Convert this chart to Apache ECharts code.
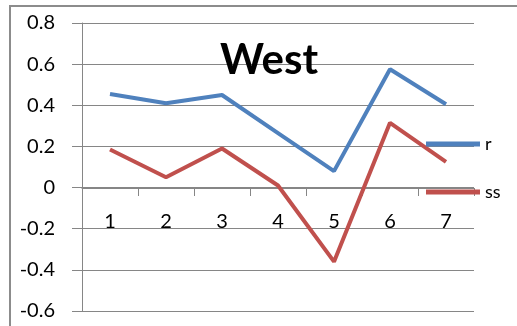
<!DOCTYPE html>
<html><head><meta charset="utf-8">
<script src="https://cdn.jsdelivr.net/npm/echarts@6/dist/echarts.min.js"></script>
<style>html,body{margin:0;padding:0;background:#fff}#c{width:517px;height:326px}</style>
</head><body><div id="c"></div>
<script>
const categories = ['1','2','3','4','5','6','7'];
const rValues = [0.455, 0.41, 0.45, 0.265, 0.08, 0.575, 0.405];
const ssValues = [0.185, 0.05, 0.19, 0.01, -0.36, 0.315, 0.125];
const seriesNames = ['r', 'ss'];
const titleText = 'West';

const gray = '#868686';
const chart = echarts.init(document.getElementById('c'));
chart.setOption({
  animation: false,
  backgroundColor: '#fff',
  graphic: [{
    type: 'rect', shape: {x: 10, y: 6, width: 700, height: 500},
    style: {fill: 'none', stroke: '#8c8c8c', lineWidth: 2}, z: -1
  }],
  title: {
    text: titleText, left: 215, top: 34,
    textStyle: {fontFamily: 'Lato', fontWeight: 'bold', fontSize: 42, color: '#000'}
  },
  legend: [{
    data: [seriesNames[0]], left: 421, top: 129, icon: 'rect', itemWidth: 54, itemHeight: 5,
    textStyle: {fontFamily: 'Lato', fontSize: 18, color: '#000', lineHeight: 20}
  }, {
    data: [seriesNames[1]], left: 421, top: 177, icon: 'rect', itemWidth: 54, itemHeight: 5,
    textStyle: {fontFamily: 'Lato', fontSize: 18, color: '#000', lineHeight: 20}
  }],
  grid: {left: 82, right: 43, top: 23, bottom: 15, containLabel: false, outerBoundsMode: 'none'},
  xAxis: {
    type: 'category', data: categories, boundaryGap: true, position: 'bottom', offset: -123,
    axisLine: {onZero: false, lineStyle: {color: gray, width: 1}},
    axisTick: {show: true, length: 8, inside: false, lineStyle: {color: gray}},
    axisLabel: {fontFamily: 'Lato', fontSize: 20, color: '#000', margin: 24}
  },
  yAxis: {
    type: 'value', min: -0.6, max: 0.8, interval: 0.2,
    axisLine: {show: true, lineStyle: {color: gray, width: 1}},
    axisTick: {show: true, length: 10, lineStyle: {color: gray}},
    splitLine: {show: true, lineStyle: {color: gray, width: 1}},
    axisLabel: {fontFamily: 'Lato', fontSize: 20, color: '#000', margin: 27,
      formatter: v => String(Math.round(v * 10) / 10)}
  },
  series: [{
    name: seriesNames[0], type: 'line', data: rValues, symbol: 'none',
    lineStyle: {color: '#4F81BD', width: 4}, itemStyle: {color: '#4F81BD'}, z: 3
  }, {
    name: seriesNames[1], type: 'line', data: ssValues, symbol: 'none',
    lineStyle: {color: '#C0504D', width: 4}, itemStyle: {color: '#C0504D'}, z: 2
  }]
});
</script></body></html>
